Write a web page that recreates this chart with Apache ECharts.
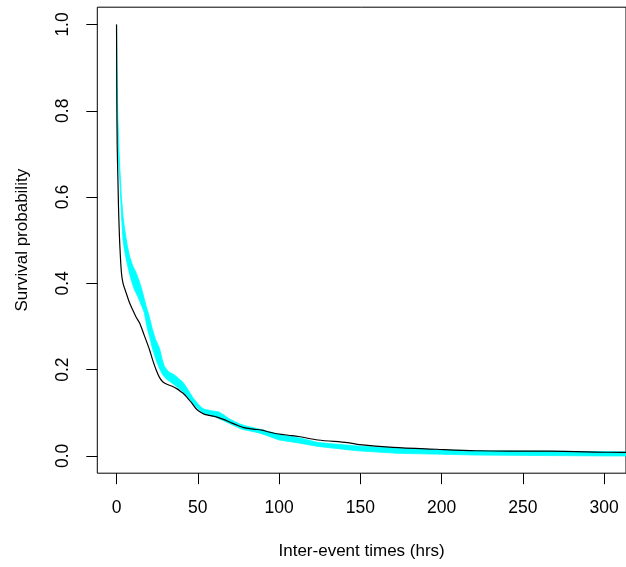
<!DOCTYPE html>
<html>
<head>
<meta charset="utf-8">
<script src="https://cdn.jsdelivr.net/npm/echarts@6/dist/echarts.min.js"></script>
<style>html,body{margin:0;padding:0;background:#fff}#c{width:626px;height:567px}</style>
</head>
<body>
<div id="c"></div>
<script>
// Observed survival (black line): [hours, probability]
const observed = [
  [0,1.0],[0.15,0.85],[0.4,0.72],[0.8,0.65],[1.2,0.58],[1.6,0.53],[2,0.49],[3,0.425],[4,0.4],
  [6,0.377],[8,0.355],[10,0.338],[12,0.322],[14.2,0.308],[17,0.28],[20.3,0.246],[22,0.225],
  [24.4,0.199],[26.4,0.182],[28.4,0.172],[31,0.166],[34.5,0.161],[37,0.156],[39.6,0.149],
  [41.6,0.143],[43.7,0.134],[46,0.124],[48.8,0.11],[51,0.103],[53.8,0.097],[57,0.094],[61,0.091],
  [64,0.087],[67,0.083],[71,0.076],[75,0.07],[79,0.065],[84,0.062],[89.4,0.06],[93,0.056],
  [97.6,0.052],[105.7,0.048],[112,0.045],[124,0.037],[142,0.031],[148,0.027],[170,0.02],
  [197,0.0155],[221,0.012],[242,0.011],[266,0.011],[303,0.0085],[320,0.008]
];
// Simulated envelope (cyan band): upper and lower bounds
const bandUpper = [
  [0,1.0],[0.3,0.9],[0.8,0.79],[1.5,0.71],[2,0.67],[3,0.6],[4,0.555],[5,0.525],[6.5,0.49],[8,0.463],
  [10,0.44],[12,0.425],[14,0.405],[16,0.38],[18,0.35],[20,0.325],[22,0.295],[24,0.27],[26.4,0.25],
  [28,0.225],[29.5,0.207],[32,0.195],[35.5,0.188],[38,0.18],[40.6,0.172],[42.5,0.162],[44.7,0.149],
  [47,0.135],[49.8,0.122],[52,0.113],[54,0.108],[58,0.105],[63,0.102],[66,0.095],[69,0.087],
  [72.5,0.08],[76,0.074],[80,0.069],[85,0.065],[90,0.06],[100,0.05],[112,0.042],[124,0.031],
  [148,0.023],[173,0.018],[200,0.014],[221,0.012],[260,0.011],[303,0.01],[320,0.009]
];
const bandLower = [
  [0,1.0],[0.2,0.85],[0.6,0.75],[1.2,0.69],[2,0.64],[3,0.56],[4,0.5],[5,0.475],[6,0.455],[7.5,0.43],
  [9,0.408],[11,0.385],[13,0.37],[15,0.352],[17,0.333],[19,0.295],[20.3,0.277],[22,0.25],[24.4,0.222],
  [26.5,0.202],[28.4,0.188],[31,0.177],[34.5,0.168],[37.5,0.159],[40.6,0.149],[43.5,0.137],[46.7,0.122],
  [50,0.11],[52.8,0.1],[57,0.094],[61,0.09],[65,0.083],[69,0.076],[73,0.069],[77,0.062],[82,0.058],
  [87,0.054],[92,0.048],[100,0.037],[112,0.03],[124,0.022],[148,0.012],[173,0.006],[200,0.004],
  [221,0.002],[260,0.001],[303,0],[320,0]
];
const xTicks = [0,50,100,150,200,250,300];
const yTicks = [0,0.2,0.4,0.6,0.8,1.0];

const font = '"Liberation Sans", Arial, sans-serif';
const chart = echarts.init(document.getElementById('c'), null, {renderer:'canvas'});
chart.setOption({
  animation:false,
  backgroundColor:'#fff',
  grid:{left:97.3, top:7.2, width:533.4, height:466.0, show:true, borderColor:'#000', borderWidth:1, backgroundColor:'transparent'},
  xAxis:{
    type:'value', min:-11.83, max:313.4,
    name:'Inter-event times (hrs)', nameLocation:'middle', nameGap:70,
    nameTextStyle:{fontFamily:font, fontSize:17, color:'#000'},
    axisLine:{show:false, onZero:false}, splitLine:{show:false},
    axisTick:{show:true, length:11, inside:false, customValues:xTicks, lineStyle:{color:'#000', width:1}},
    axisLabel:{show:true, margin:26, fontFamily:font, fontSize:17.5, color:'#000', customValues:xTicks,
      formatter:v=>String(v)}
  },
  yAxis:{
    type:'value', min:-0.04, max:1.04,
    name:'Survival probability', nameLocation:'middle', nameGap:66,
    nameTextStyle:{fontFamily:font, fontSize:17, color:'#000'},
    axisLine:{show:false, onZero:false}, splitLine:{show:false},
    axisTick:{show:true, length:11, customValues:yTicks, lineStyle:{color:'#000', width:1}},
    axisLabel:{show:true, rotate:90, margin:25, fontFamily:font, fontSize:17.5, color:'#000', customValues:yTicks,
      formatter:v=>v.toFixed(1)}
  },
  series:[
    {
      type:'custom', z:2, clip:true, silent:true,
      data:[[0,0]],
      renderItem:function(params, api){
        const pts = bandUpper.map(p=>api.coord(p)).concat(bandLower.slice().reverse().map(p=>api.coord(p)));
        return {type:'polygon', shape:{points:pts}, style:{fill:'#00FFFF', stroke:'#00FFFF', lineWidth:0.8}};
      }
    },
    {
      type:'line', z:3, data:observed, showSymbol:false, smooth:0.3, clip:true,
      lineStyle:{color:'#000', width:1.2}
    }
  ]
});
</script>
</body>
</html>
